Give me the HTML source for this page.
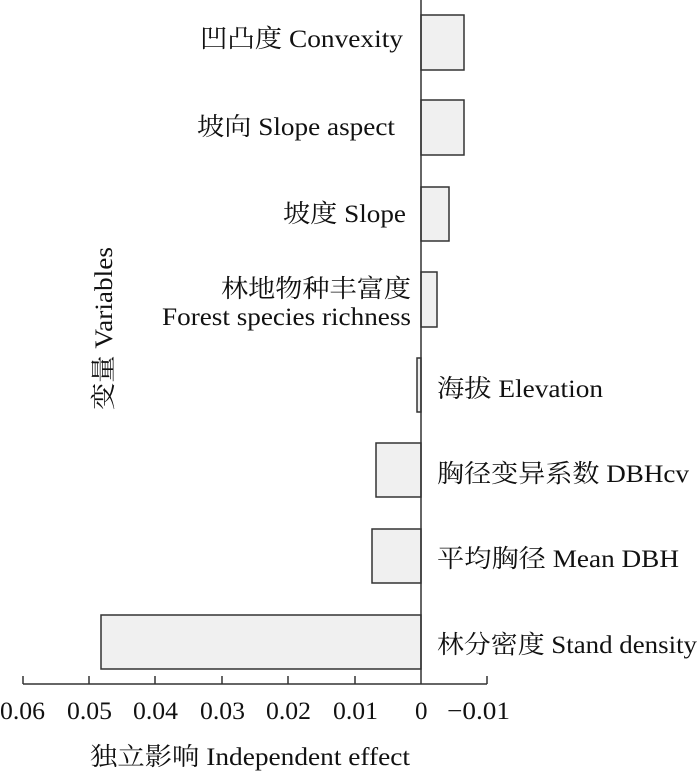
<!DOCTYPE html>
<html><head><meta charset="utf-8"><style>
body{margin:0;background:#fff;}
svg text{font-family:"Liberation Serif","Noto Serif CJK SC",serif;font-size:25px;fill:#111;}
</style></head><body>
<svg width="700" height="772" viewBox="0 0 700 772" xmlns="http://www.w3.org/2000/svg">
<g fill="#f0f0f0" stroke="#333" stroke-width="1.5">
<rect x="421" y="15" width="43" height="55"/>
<rect x="421" y="100" width="43" height="55"/>
<rect x="421" y="187" width="28" height="54"/>
<rect x="421" y="272" width="16" height="55"/>
<rect x="417" y="358" width="4" height="54"/>
<rect x="376" y="443" width="45" height="54"/>
<rect x="372" y="529" width="49" height="54"/>
<rect x="101" y="615" width="320" height="54"/>
</g>
<g stroke="#333" stroke-width="1.5" fill="none">
<line x1="421" y1="0" x2="421" y2="684"/>
<line x1="23" y1="684" x2="487" y2="684"/>
<line x1="23" y1="676" x2="23" y2="684"/>
<line x1="89" y1="676" x2="89" y2="684"/>
<line x1="155" y1="676" x2="155" y2="684"/>
<line x1="222" y1="676" x2="222" y2="684"/>
<line x1="288" y1="676" x2="288" y2="684"/>
<line x1="355" y1="676" x2="355" y2="684"/>
<line x1="487" y1="676" x2="487" y2="684"/>
</g>
<g>
<text x="200" y="47" textLength="203" lengthAdjust="spacingAndGlyphs">凹凸度 Convexity</text>
<text x="197" y="135" textLength="198" lengthAdjust="spacingAndGlyphs">坡向 Slope aspect</text>
<text x="283" y="222" textLength="123" lengthAdjust="spacingAndGlyphs">坡度 Slope</text>
<text x="221" y="297" textLength="190" lengthAdjust="spacingAndGlyphs">林地物种丰富度</text>
<text x="162" y="325" textLength="249" lengthAdjust="spacingAndGlyphs">Forest species richness</text>
<text x="437" y="397" textLength="166" lengthAdjust="spacingAndGlyphs">海拔 Elevation</text>
<text x="437" y="482" textLength="252" lengthAdjust="spacingAndGlyphs">胸径变异系数 DBHcv</text>
<text x="437" y="567" textLength="242" lengthAdjust="spacingAndGlyphs">平均胸径 Mean DBH</text>
<text x="437" y="653" textLength="260" lengthAdjust="spacingAndGlyphs">林分密度 Stand density</text>
<text x="0" y="719" textLength="45" lengthAdjust="spacingAndGlyphs">0.06</text>
<text x="67" y="719" textLength="45" lengthAdjust="spacingAndGlyphs">0.05</text>
<text x="133" y="719" textLength="45" lengthAdjust="spacingAndGlyphs">0.04</text>
<text x="200" y="719" textLength="45" lengthAdjust="spacingAndGlyphs">0.03</text>
<text x="266" y="719" textLength="45" lengthAdjust="spacingAndGlyphs">0.02</text>
<text x="333" y="719" textLength="45" lengthAdjust="spacingAndGlyphs">0.01</text>
<text x="415" y="719">0</text>
<text x="447" y="719" textLength="63" lengthAdjust="spacingAndGlyphs">−0.01</text>
<text x="90" y="765" textLength="320" lengthAdjust="spacingAndGlyphs">独立影响 Independent effect</text>
<text transform="translate(112,410) rotate(-90)" textLength="163" lengthAdjust="spacingAndGlyphs">变量 Variables</text>
</g>
</svg>
</body></html>
